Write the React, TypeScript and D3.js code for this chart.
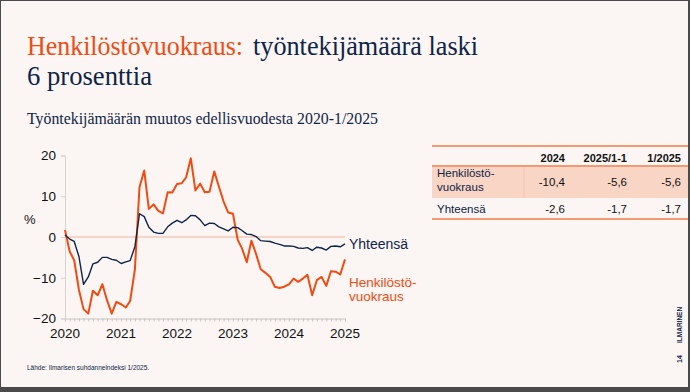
import { useEffect, useRef } from "react";
import * as d3 from "d3";

// monthly, 1/2020 .. 1/2025
const henkilosto = [
  1.7, -3.6, -5.7, -13, -17.7, -18.8, -13.2, -14.3, -11.6, -15.5, -18.8, -15.9,
  -16.5, -17.3, -15.7, -8, 12.2, 16.3, 6.9, 8, 6.4, 5.8, 11, 10.9,
  13, 13.2, 14.6, 19.3, 11.4, 13.1, 11, 11.1, 16.1, 12.4, 8.7, 6,
  5.7, -0.7, -2.8, -6.2, -0.9, -4.2, -7.9, -8.8, -9.8, -12.2, -12.5, -12.2,
  -11.6, -10.2, -11, -10.2, -9.3, -14.3, -10.6, -9.8, -12, -8.4, -8.5, -9.2,
  -5.5,
];
const yhteensa = [
  0.5, -0.5, -1.1, -4.8, -11.6, -9.8, -6.6, -6.2, -5, -5, -5.5, -5.7,
  -6.5, -6.1, -5.8, -2.4, 5.7, 5, 2.4, 1.2, 0.9, 0.9, 2.5, 3.4,
  4.1, 3.5, 4.2, 5.3, 5.2, 4.2, 2.8, 3.4, 3.3, 2.5, 2, 1.5,
  2.4, 2.3, 1.6, 0.7, 0.6, 0.1, -0.9, -1, -1.1, -1.5, -1.8, -2.2,
  -2.2, -2.3, -2.7, -2.8, -2.6, -3.3, -2.5, -2.7, -3.2, -2.3, -2.2, -2.4,
  -1.7,
];
const yTicks = [20, 10, 0, -10, -20];
const yearTicks = [2020, 2021, 2022, 2023, 2024, 2025];

const tableCols = ["2024", "2025/1-1", "1/2025"];
const tableRows = [
  { label: ["Henkilöstö-", "vuokraus"], values: ["-10,4", "-5,6", "-5,6"] },
  { label: ["Yhteensä"], values: ["-2,6", "-1,7", "-1,7"] },
];

const ORANGE = "#ef4b12";
const NAVY = "#0e2448";
const BG = "#fbf6f3";
const SANS = "'Liberation Sans', Arial, sans-serif";
const SERIF = "'Liberation Serif', serif";

export default function App() {
  const axisRef = useRef<SVGGElement>(null);

  const start = new Date(2020, 0, 1);
  const months = henkilosto.map((_, i) => d3.timeMonth.offset(start, i));
  const x = d3
    .scaleTime()
    .domain([start, new Date(2025, 0, 1)])
    .range([65, 345]);
  const y = d3.scaleLinear().domain([-20, 20]).range([318.5, 155.5]);

  const line = d3
    .line<number>()
    .x((_, i) => x(months[i]))
    .y((d) => y(d));

  useEffect(() => {
    if (!axisRef.current) return;
    const g = d3.select(axisRef.current);
    g.selectAll("*").remove();

    // x axis with monthly minor ticks
    const xa = g.append("g").attr("transform", `translate(0,${y(-20)})`);
    xa.call(
      d3
        .axisBottom(x)
        .ticks(d3.timeMonth.every(1))
        .tickSize(3)
        .tickFormat(() => ""),
    );
    xa.select(".domain").attr("stroke", "#c9c4c2");
    xa.selectAll(".tick line").attr("stroke", "#c9c4c2");
    xa.selectAll(".tick text").remove();

    xa.selectAll(".yr")
      .data(yearTicks)
      .enter()
      .append("text")
      .attr("x", (d) => x(new Date(d, 0, 1)))
      .attr("y", 19)
      .attr("text-anchor", "middle")
      .attr("font-family", SANS)
      .attr("font-size", 13.5)
      .attr("fill", "#111")
      .text((d) => d);

    // y axis
    const ya = g.append("g").attr("transform", `translate(65,0)`);
    ya.call(d3.axisLeft(y).tickValues(yTicks).tickSize(4).tickPadding(5));
    ya.select(".domain").attr("stroke", "#d8d2cf");
    ya.selectAll(".tick line").attr("stroke", "#d8d2cf");
    ya.selectAll(".tick text")
      .attr("font-family", SANS)
      .attr("font-size", 13.5)
      .attr("fill", "#111");
  }, []);

  const tx = 432;
  const tw = 256;
  const colRight = [565, 627, 681];

  return (
    <div style={{ position: "absolute", left: 0, top: 0 }}>
      <svg width={690} height={392} style={{ display: "block" }}>
        <rect x={0} y={0} width={690} height={392} fill="#4a4a4a" />
        <rect x={1} y={1} width={687} height={386} fill={BG} />

        {/* title */}
        <text
          x={27}
          y={55}
          fontFamily={SERIF}
          fontSize={28}
          fill={ORANGE}
          textLength={216}
          lengthAdjust="spacingAndGlyphs"
        >
          Henkilöstövuokraus:
        </text>
        <text
          x={253}
          y={55}
          fontFamily={SERIF}
          fontSize={28}
          fill={NAVY}
          textLength={225}
          lengthAdjust="spacingAndGlyphs"
        >
          työntekijämäärä laski
        </text>
        <text
          x={27}
          y={85}
          fontFamily={SERIF}
          fontSize={28}
          fill={NAVY}
          textLength={125}
          lengthAdjust="spacingAndGlyphs"
        >
          6 prosenttia
        </text>
        <text
          x={27}
          y={124}
          fontFamily={SERIF}
          fontSize={17}
          fill={NAVY}
          textLength={351}
          lengthAdjust="spacingAndGlyphs"
        >
          Työntekijämäärän muutos edellisvuodesta 2020-1/2025
        </text>

        {/* chart */}
        <line
          x1={65}
          x2={345}
          y1={y(0)}
          y2={y(0)}
          stroke="#f6c9b8"
          strokeWidth={1.5}
        />
        <g ref={axisRef} />
        <text x={24} y={224} fontFamily={SANS} fontSize={13} fill="#111">
          %
        </text>
        <path
          d={line(henkilosto) ?? ""}
          fill="none"
          stroke={ORANGE}
          strokeWidth={2}
          strokeLinejoin="round"
        />
        <path
          d={line(yhteensa) ?? ""}
          fill="none"
          stroke={NAVY}
          strokeWidth={1.4}
          strokeLinejoin="round"
        />
        <text x={349} y={249} fontFamily={SANS} fontSize={14} fill={NAVY}>
          Yhteensä
        </text>
        <text x={349} y={287} fontFamily={SANS} fontSize={13.5} fill={ORANGE}>
          Henkilöstö-
        </text>
        <text x={349} y={301} fontFamily={SANS} fontSize={13.5} fill={ORANGE}>
          vuokraus
        </text>

        {/* table */}
        <rect x={tx} y={166} width={tw} height={32} fill="#f8d5c4" />
        <line x1={524} x2={524} y1={166} y2={198} stroke="#f1c3b0" strokeWidth={0.8} />
        <line x1={tx} x2={tx + tw} y1={146} y2={146} stroke="#f29a74" strokeWidth={2} />
        <line x1={tx} x2={tx + tw} y1={166} y2={166} stroke="#f29a74" strokeWidth={2} />
        <line x1={tx} x2={tx + tw} y1={219} y2={219} stroke="#f29a74" strokeWidth={2} />
        {tableCols.map((c, i) => (
          <text
            key={c}
            x={colRight[i]}
            y={162}
            textAnchor="end"
            fontFamily={SANS}
            fontSize={11}
            fontWeight="bold"
            fill="#111"
          >
            {c}
          </text>
        ))}
        {tableRows.map((r, ri) => {
          const base = ri === 0 ? 182 : 209;
          return (
            <g key={ri}>
              {r.label.map((l, li) => (
                <text
                  key={l}
                  x={437}
                  y={(ri === 0 ? 177 : 213) + li * 14}
                  fontFamily={SANS}
                  fontSize={11.5}
                  fill={NAVY}
                >
                  {l}
                </text>
              ))}
              {r.values.map((v, vi) => (
                <text
                  key={vi}
                  x={colRight[vi]}
                  y={base + 4}
                  textAnchor="end"
                  fontFamily={SANS}
                  fontSize={11.5}
                  fill="#111"
                >
                  {v}
                </text>
              ))}
            </g>
          );
        })}

        {/* footer */}
        <text x={27} y={370} fontFamily={SANS} fontSize={6.5} fill={NAVY}>
          Lähde: Ilmarisen suhdanneindeksi 1/2025.
        </text>
        <text
          transform="translate(682,343) rotate(-90)"
          fontFamily={SANS}
          fontSize={6.5}
          fontWeight="bold"
          fill={NAVY}
        >
          ILMARINEN
        </text>
        <text
          transform="translate(682,363) rotate(-90)"
          fontFamily={SANS}
          fontSize={7}
          fontWeight="bold"
          fill={NAVY}
        >
          14
        </text>
      </svg>
    </div>
  );
}
